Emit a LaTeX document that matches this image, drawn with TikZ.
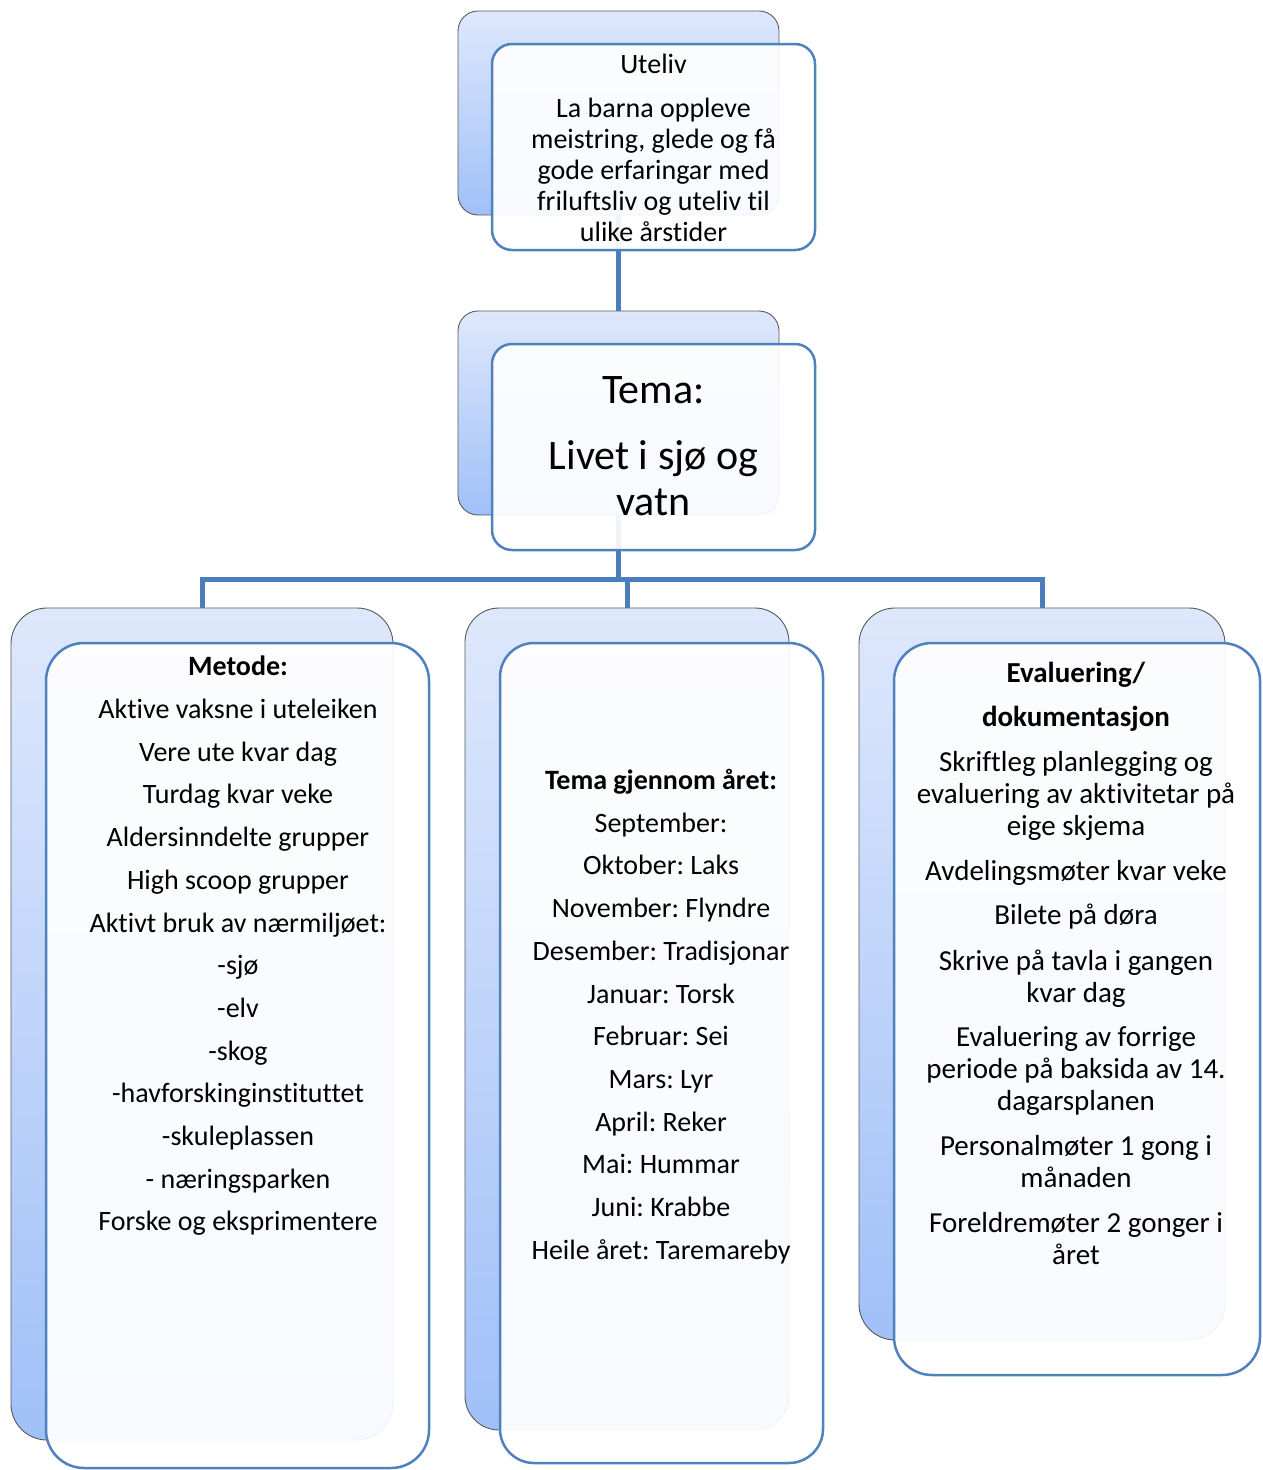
\documentclass[tikz,border=0pt]{standalone}
\usepackage{fontspec}
\setmainfont[Ligatures={NoCommon}]{Carlito}
\frenchspacing
\definecolor{lineblue}{RGB}{74,126,187}
\definecolor{frontblue}{RGB}{79,129,189}
\definecolor{backtop}{RGB}{222,232,252}
\definecolor{backbot}{RGB}{160,192,248}
\begin{document}
\begin{tikzpicture}[x=1pt,y=-1pt,
  backbox/.style={draw=black!65, line width=0.9pt, top color=backtop, bottom color=backbot, rounded corners=#1, inner sep=0pt, outer sep=0pt},
  backbox/.default=20pt,
  frontbox/.style={draw=frontblue, line width=2.5pt, fill=white, fill opacity=0.92, rounded corners=#1, inner sep=0pt, outer sep=0pt},
  frontbox/.default=20pt,
  conn/.style={draw=lineblue, line width=5pt},
  txt/.style={align=center, inner sep=0pt, text=black}
]
\useasboundingbox (0,0) rectangle (1263,1470);

% back shapes
\node[backbox=20pt, minimum width=321pt, minimum height=204pt] (uteB) at (618.5,113) {};
\node[backbox=20pt, minimum width=321pt, minimum height=204pt] (temaB) at (618.5,413) {};
\node[backbox=36pt, minimum width=382pt, minimum height=832pt] (metB) at (202,1024) {};
\node[backbox=34pt, minimum width=324pt, minimum height=822pt] (midB) at (627,1019) {};
\node[backbox=36pt, minimum width=366pt, minimum height=732pt] (evB) at (1042,974) {};

% connectors
\draw[conn] (uteB.south) -- (temaB.north);
\draw[conn] (temaB.south) |- ([yshift=29pt]metB.north) -- (metB.north);
\draw[conn] (temaB.south) |- ([yshift=29pt]midB.north) -- (midB.north);
\draw[conn] (temaB.south) |- ([yshift=29pt]evB.north) -- (evB.north);

% front shapes
\node[frontbox=20pt, minimum width=323pt, minimum height=206pt] (uteF) at (653.5,147) {};
\node[frontbox=20pt, minimum width=323pt, minimum height=206pt] (temaF) at (653.5,447) {};
\node[frontbox=38pt, minimum width=383pt, minimum height=825pt] (metF) at (237.5,1055.5) {};
\node[frontbox=34pt, minimum width=323pt, minimum height=820pt] (midF) at (661.5,1053) {};
\node[frontbox=38pt, minimum width=366pt, minimum height=732pt] (evF) at (1077,1009) {};

% texts
\node[txt, font=\fontsize{28}{31}\selectfont] (uteT) at (653.5,148)
  {Uteliv\\[13pt] La barna oppleve\\ meistring, glede og få\\ gode erfaringar med\\ friluftsliv og uteliv til\\ ulike årstider};
\node[txt, font=\fontsize{42}{46}\selectfont] (temaT) at (653.5,446)
  {Tema:\\[20pt] Livet i sjø og\\ vatn};
\node[txt, font=\fontsize{28}{42.7}\selectfont] (metT) at (238,946)
  {\textbf{Metode:}\\ Aktive vaksne i uteleiken\\ Vere ute kvar dag\\ Turdag kvar veke\\ Aldersinndelte grupper\\ High scoop grupper\\ Aktivt bruk av nærmiljøet:\\ -sjø\\ -elv\\ -skog\\ -havforskinginstituttet\\ -skuleplassen\\ - næringsparken\\ Forske og eksprimentere};
\node[txt, font=\fontsize{28}{42.7}\selectfont] (midT) at (661,1016.5)
  {\textbf{Tema gjennom året:}\\ September:\\ Oktober: Laks\\ November: Flyndre\\ Desember: Tradisjonar\\ Januar: Torsk\\ Februar: Sei\\ Mars: Lyr\\ April: Reker\\ Mai: Hummar\\ Juni: Krabbe\\ Heile året: Taremareby};
\node[txt, font=\fontsize{29}{32}\selectfont] (evT) at (1076,963)
  {\textbf{Evaluering/}\\[12pt] \textbf{dokumentasjon}\\[13pt] Skriftleg planlegging og\\ evaluering av aktivitetar på\\ eige skjema\\[13pt] Avdelingsmøter kvar veke\\[12pt] Bilete på døra\\[14pt] Skrive på tavla i gangen\\ kvar dag\\[12pt] Evaluering av forrige\\ periode på baksida av 14.\\ dagarsplanen\\[13pt] Personalmøter 1 gong i\\ månaden\\[13pt] Foreldremøter 2 gonger i\\ året};
\end{tikzpicture}
\end{document}
